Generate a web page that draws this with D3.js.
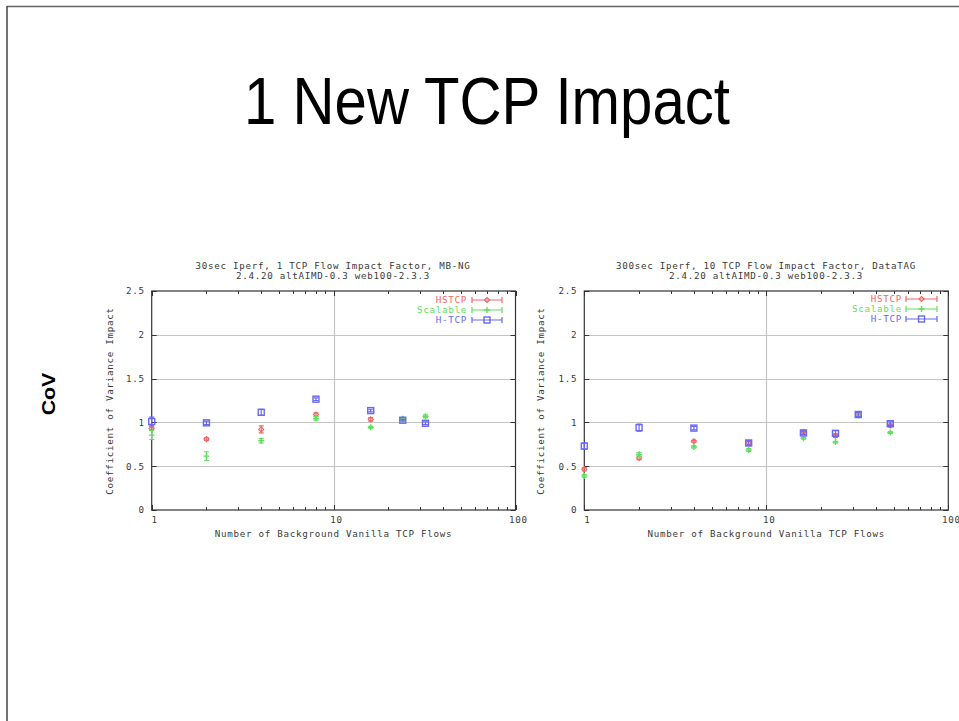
<!DOCTYPE html>
<html><head><meta charset="utf-8">
<script src="https://cdn.jsdelivr.net/npm/d3@7"></script>
<style>html,body{margin:0;padding:0;background:#fff;}svg{display:block;}</style>
</head><body>
<svg id="slide" width="959" height="721"></svg>
<script>
// ---------- data ----------
const slideTitle = "1 New TCP Impact";
const sideLabel = "CoV";
const seriesNames = ["HSTCP", "Scalable", "H-TCP"];
const seriesColors = ["#f06868", "#5ee05e", "#6868f0"];
const yTicks = [0, 0.5, 1, 1.5, 2, 2.5];
const yTickLabels = ["0", "0.5", "1", "1.5", "2", "2.5"];
const xTicks = [1, 10, 100];
const xTickLabels = ["1", "10", "100"];
const xLabel = "Number of Background Vanilla TCP Flows";
const yLabel = "Coefficient of Variance Impact";

// chart 1
const title1 = ["30sec Iperf, 1 TCP Flow Impact Factor, MB-NG", "2.4.20 altAIMD-0.3 web100-2.3.3"];
const flows1 = [1, 2, 4, 8, 16, 24, 32];
const hstcp1 = [0.93, 0.81, 0.92, 1.09, 1.035, 1.04, null];
const hstcpErr1 = [0.02, 0.015, 0.04, 0.02, 0.02, 0.01, null];
const scalable1 = [0.855, 0.615, 0.79, 1.045, 0.945, 1.035, 1.07];
const scalableErr1 = [0.05, 0.05, 0.025, 0.02, 0.01, 0.01, 0.015];
const htcp1 = [1.01, 0.995, 1.115, 1.265, 1.135, 1.025, 0.99];
const htcpErr1 = [0.05, 0.02, 0.035, 0.015, 0.015, 0.01, 0.015];

// chart 2
const title2 = ["300sec Iperf, 10 TCP Flow Impact Factor, DataTAG", "2.4.20 altAIMD-0.3 web100-2.3.3"];
const flows2 = [1, 2, 4, 8, 16, 24, 32, 48];
const hstcp2 = [0.465, 0.595, 0.785, 0.765, 0.89, 0.85, 1.085, 0.965];
const hstcpErr2 = [0.02, 0.02, 0.01, 0.02, 0.01, 0.02, 0.02, 0.015];
const scalable2 = [0.39, 0.635, 0.72, 0.685, 0.82, 0.775, 1.08, 0.885];
const scalableErr2 = [0.015, 0.02, 0.015, 0.015, 0.01, 0.01, 0.02, 0.01];
const htcp2 = [0.73, 0.94, 0.935, 0.765, 0.88, 0.875, 1.09, 0.985];
const htcpErr2 = [0.035, 0.04, 0.02, 0.025, 0.02, 0.03, 0.025, 0.02];

// ---------- drawing ----------
const svg = d3.select("#slide");
svg.append("rect").attr("width", 959).attr("height", 721).attr("fill", "#fff");

// slide frame
svg.append("line").attr("x1", 7).attr("x2", 959).attr("y1", 6.5).attr("y2", 6.5)
  .attr("stroke", "#666").attr("stroke-width", 1.5);
svg.append("line").attr("x1", 7).attr("x2", 7).attr("y1", 6).attr("y2", 721)
  .attr("stroke", "#444").attr("stroke-width", 1.5);

// slide title
svg.append("text").attr("transform", "translate(487,124) scale(1,1.12)")
  .attr("text-anchor", "middle")
  .attr("font-family", "Liberation Sans, Arial, sans-serif")
  .attr("font-size", 60).attr("fill", "#000")
  .attr("textLength", 486).attr("lengthAdjust", "spacingAndGlyphs")
  .text(slideTitle);

// side label
svg.append("text").attr("transform", "translate(55,394) rotate(-90) scale(1.22,1)")
  .attr("text-anchor", "middle")
  .attr("font-family", "Liberation Sans, Arial, sans-serif")
  .attr("font-weight", "bold").attr("font-size", 17.5).attr("fill", "#000")
  .text(sideLabel);

const monoFont = "DejaVu Sans Mono, Liberation Mono, monospace";
const textCol = "#3a3a3a";
const smallSize = 9.2;
const smallSpacing = 0.72; // letter-spacing to keep ~6.26px per char

function drawChart(cfg) {
  const x = d3.scaleLog().domain([1, 100]).range([cfg.left, cfg.right]);
  const y = d3.scaleLinear().domain([0, 2.5]).range([510, 291]);
  const g = svg.append("g");

  // grid
  g.selectAll(".hg").data(yTicks.filter(v => v > 0 && v < 2.5)).enter().append("line")
    .attr("x1", cfg.left).attr("x2", cfg.right)
    .attr("y1", d => Math.round(y(d)) + 0.5).attr("y2", d => Math.round(y(d)) + 0.5)
    .attr("stroke", "#c4c4c4").attr("stroke-width", 1.2);
  g.append("line").attr("x1", Math.round(x(10)) + 0.5).attr("x2", Math.round(x(10)) + 0.5)
    .attr("y1", y(2.5)).attr("y2", y(0)).attr("stroke", "#c4c4c4").attr("stroke-width", 1.2);

  // ticks (mirrored)
  const tk = g.append("g").attr("stroke", "#333").attr("stroke-width", 1);
  yTicks.forEach(v => {
    const yy = Math.round(y(v)) + 0.5;
    tk.append("line").attr("x1", cfg.left).attr("x2", cfg.left + 5).attr("y1", yy).attr("y2", yy);
    tk.append("line").attr("x1", cfg.right).attr("x2", cfg.right - 5).attr("y1", yy).attr("y2", yy);
  });
  const minor = [];
  [1, 10].forEach(b => { for (let k = 2; k <= 9; k++) minor.push(b * k); });
  minor.forEach(v => {
    const xx = Math.round(x(v)) + 0.5;
    tk.append("line").attr("x1", xx).attr("x2", xx).attr("y1", y(0)).attr("y2", y(0) - 3);
    tk.append("line").attr("x1", xx).attr("x2", xx).attr("y1", y(2.5)).attr("y2", y(2.5) + 3);
  });
  xTicks.forEach(v => {
    const xx = Math.round(x(v)) + 0.5;
    tk.append("line").attr("x1", xx).attr("x2", xx).attr("y1", y(0)).attr("y2", y(0) - 5);
    tk.append("line").attr("x1", xx).attr("x2", xx).attr("y1", y(2.5)).attr("y2", y(2.5) + 5);
  });

  // border
  g.append("rect").attr("x", cfg.left).attr("y", y(2.5))
    .attr("width", cfg.right - cfg.left).attr("height", y(0) - y(2.5))
    .attr("fill", "none").attr("stroke", "#333").attr("stroke-width", 1.2);

  const small = sel => sel.attr("font-family", monoFont).attr("font-size", smallSize)
    .attr("letter-spacing", smallSpacing).attr("fill", textCol);

  // tick labels
  g.selectAll(".yl").data(yTicks).enter().append("text")
    .attr("x", cfg.left - 7).attr("y", d => y(d) + 3.3)
    .attr("text-anchor", "end").call(small).text((d, i) => yTickLabels[i]);
  g.selectAll(".xl").data(xTicks).enter().append("text")
    .attr("x", d => x(d) + 3).attr("y", 523)
    .attr("text-anchor", "middle").call(small).text((d, i) => xTickLabels[i]);

  // axis labels
  g.append("text").attr("x", (cfg.left + cfg.right) / 2).attr("y", 537)
    .attr("text-anchor", "middle").call(small).text(xLabel);
  g.append("text").attr("transform", `translate(${cfg.ylabX},401) rotate(-90)`)
    .attr("text-anchor", "middle").call(small).text(yLabel);

  // titles
  cfg.title.forEach((t, i) => {
    g.append("text").attr("x", cfg.titleX).attr("y", 268.5 + i * 10)
      .attr("text-anchor", "middle").call(small).text(t);
  });

  // marker drawing
  function marker(sel, si, cx, cy, col) {
    if (si === 0) {
      sel.append("path").attr("d", `M${cx},${cy - 2.5}L${cx + 2.5},${cy}L${cx},${cy + 2.5}L${cx - 2.5},${cy}Z`)
        .attr("fill", "none").attr("stroke", col).attr("stroke-width", 1.2);
    } else if (si === 1) {
      sel.append("path").attr("d", `M${cx - 3},${cy}H${cx + 3}M${cx},${cy - 3}V${cy + 3}`)
        .attr("stroke", col).attr("stroke-width", 1.4);
    } else {
      sel.append("rect").attr("x", cx - 3).attr("y", cy - 3).attr("width", 6).attr("height", 6)
        .attr("fill", "none").attr("stroke", col).attr("stroke-width", 1.4);
    }
  }

  // series
  cfg.series.forEach((s, si) => {
    const col = seriesColors[si];
    const sg = g.append("g");
    const pts = cfg.flows.map((f, i) => ({ f, v: s.vals[i], e: s.errs[i] })).filter(d => d.v != null);
    pts.forEach(d => {
      const cx = x(d.f), cy = y(d.v), y1 = y(d.v + d.e), y2 = y(d.v - d.e);
      sg.append("path").attr("d", `M${cx},${y1}V${y2}M${cx - 2.5},${y1}H${cx + 2.5}M${cx - 2.5},${y2}H${cx + 2.5}`)
        .attr("stroke", col).attr("stroke-width", 1.2).attr("fill", "none");
      marker(sg, si, cx, cy, col);
    });
    // legend
    const ly = cfg.legY + si * 10;
    sg.append("text").attr("x", cfg.legTextX).attr("y", ly + 3.3).attr("text-anchor", "end")
      .attr("font-family", monoFont).attr("font-size", smallSize).attr("letter-spacing", smallSpacing)
      .attr("fill", col).text(seriesNames[si]);
    sg.append("path").attr("d", `M${cfg.legL},${ly}H${cfg.legR}M${cfg.legL},${ly - 3}V${ly + 3}M${cfg.legR},${ly - 3}V${ly + 3}`)
      .attr("stroke", col).attr("stroke-width", 1.2).attr("fill", "none");
    marker(sg, si, (cfg.legL + cfg.legR) / 2, ly, col);
  });
}

drawChart({
  left: 151.7, right: 515.5, titleX: 333, ylabX: 113, title: title1, flows: flows1,
  legY: 300, legTextX: 467, legL: 472, legR: 502,
  series: [{ vals: hstcp1, errs: hstcpErr1 }, { vals: scalable1, errs: scalableErr1 }, { vals: htcp1, errs: htcpErr1 }]
});
drawChart({
  left: 584.3, right: 948.3, titleX: 766, ylabX: 544, title: title2, flows: flows2,
  legY: 299, legTextX: 902, legL: 906, legR: 937,
  series: [{ vals: hstcp2, errs: hstcpErr2 }, { vals: scalable2, errs: scalableErr2 }, { vals: htcp2, errs: htcpErr2 }]
});
</script>
</body></html>
